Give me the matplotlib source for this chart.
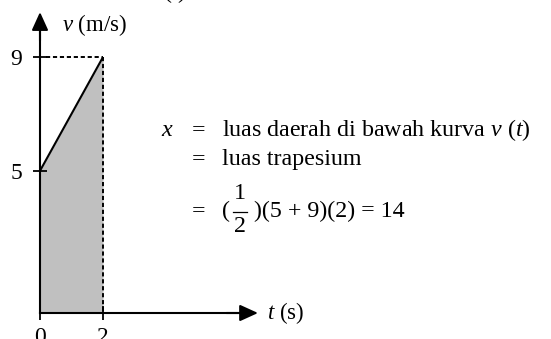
import matplotlib
matplotlib.use("Agg")
import matplotlib.pyplot as plt
from matplotlib.lines import Line2D

W, H, DPI = 551, 339, 100

# v(t) grows linearly from 5 m/s to 9 m/s over 2 s
t = [0, 2]
v = [5, 9]
t_ticks = [0, 2]
v_ticks = [5, 9]
t_max = 6.92
v_max = 10.58

plt.rcParams["font.family"] = "Liberation Serif"
plt.rcParams["mathtext.fontset"] = "custom"
plt.rcParams["mathtext.rm"] = "Liberation Serif"
plt.rcParams["mathtext.it"] = "Liberation Serif:italic"
plt.rcParams["lines.scale_dashes"] = False

FS = 17.3

fig = plt.figure(figsize=(W / DPI, H / DPI), dpi=DPI)
ax = fig.add_axes([0, 0, 1, 1])
ax.patch.set_alpha(0)

# pixel layout: origin at (40, 313), 31.5 px per second, 28.44 px per m/s
ax.set_xlim(-40 / 31.5, (W - 40) / 31.5)
ax.set_ylim(-(H - 313) / 28.44, 313 / 28.44)

# shaded area under the curve
ax.fill_between(t, v, color="#c0c0c0", lw=0)
ax.plot(t, v, color="k", lw=1.5, solid_capstyle="butt")

# guide lines to the end point
ax.plot([0.2, t[-1]], [v[-1], v[-1]], color="k", lw=1.4, dashes=(3, 2))
ax.plot([t[-1], t[-1]], [v[-1], 0], color="k", lw=1.4, dashes=(3, 2))

# axes through the origin
for side in ["top", "right"]:
    ax.spines[side].set_visible(False)
ax.spines["left"].set_position(("data", 0))
ax.spines["bottom"].set_position(("data", 0))
ax.spines["left"].set_bounds(0, v_max - 0.3)
ax.spines["bottom"].set_bounds(0, t_max - 0.3)
for side in ["left", "bottom"]:
    ax.spines[side].set_linewidth(1.5)

arrow = dict(arrowstyle="-|>,head_length=0.55,head_width=0.25",
             mutation_scale=20, color="k", lw=1.5, shrinkA=0, shrinkB=0)
ax.annotate("", xy=(0, v_max), xytext=(0, v_max - 1), arrowprops=arrow)
ax.annotate("", xy=(t_max, 0), xytext=(t_max - 1, 0), arrowprops=arrow)

ax.set_xticks(t_ticks)
ax.set_yticks(v_ticks)
ax.set_xticklabels([str(x) for x in t_ticks])
ax.set_yticklabels([str(y) for y in v_ticks])
ax.tick_params(axis="both", direction="inout", length=10, width=1.3,
               labelsize=17, colors="k")
ax.tick_params(axis="y", pad=8)
ax.tick_params(axis="x", pad=5)

# axis titles
ax.text(0.7, v_max - 0.45, r"$v$ (m/s)", fontsize=16.5, va="center")
ax.text(t_max + 0.3, 0, r"$t$ (s)", fontsize=16.5, va="center")


def fx(px):
    return px / W


def fy(py):
    return 1 - py / H


# working for the displacement
fig.text(fx(163), fy(-2), r"($t$)", fontsize=FS, va="baseline")
fig.text(fx(161), fy(136), r"$x$", fontsize=FS, va="baseline")
for y in [136, 165, 217]:
    fig.text(fx(192), fy(y), "=", fontsize=FS, va="baseline")
fig.text(fx(222), fy(136), r"luas daerah di bawah kurva $v$ ($t$)",
         fontsize=FS, va="baseline")
fig.text(fx(222), fy(165), "luas trapesium", fontsize=FS, va="baseline")

# (1/2)(5 + 9)(2) = 14 with a full-size fraction
fig.text(fx(222), fy(217), "(", fontsize=FS, va="baseline")
fig.text(fx(240), fy(199), "1", fontsize=FS, va="baseline", ha="center")
fig.text(fx(240), fy(232), "2", fontsize=FS, va="baseline", ha="center")
fig.add_artist(Line2D([fx(233), fx(247)], [fy(211.5), fy(211.5)],
                      color="k", lw=0.9))
fig.text(fx(254), fy(217), ")(5 + 9)(2) = 14", fontsize=FS, va="baseline")

fig.savefig("out.png", dpi=DPI)
plt.close(fig)
